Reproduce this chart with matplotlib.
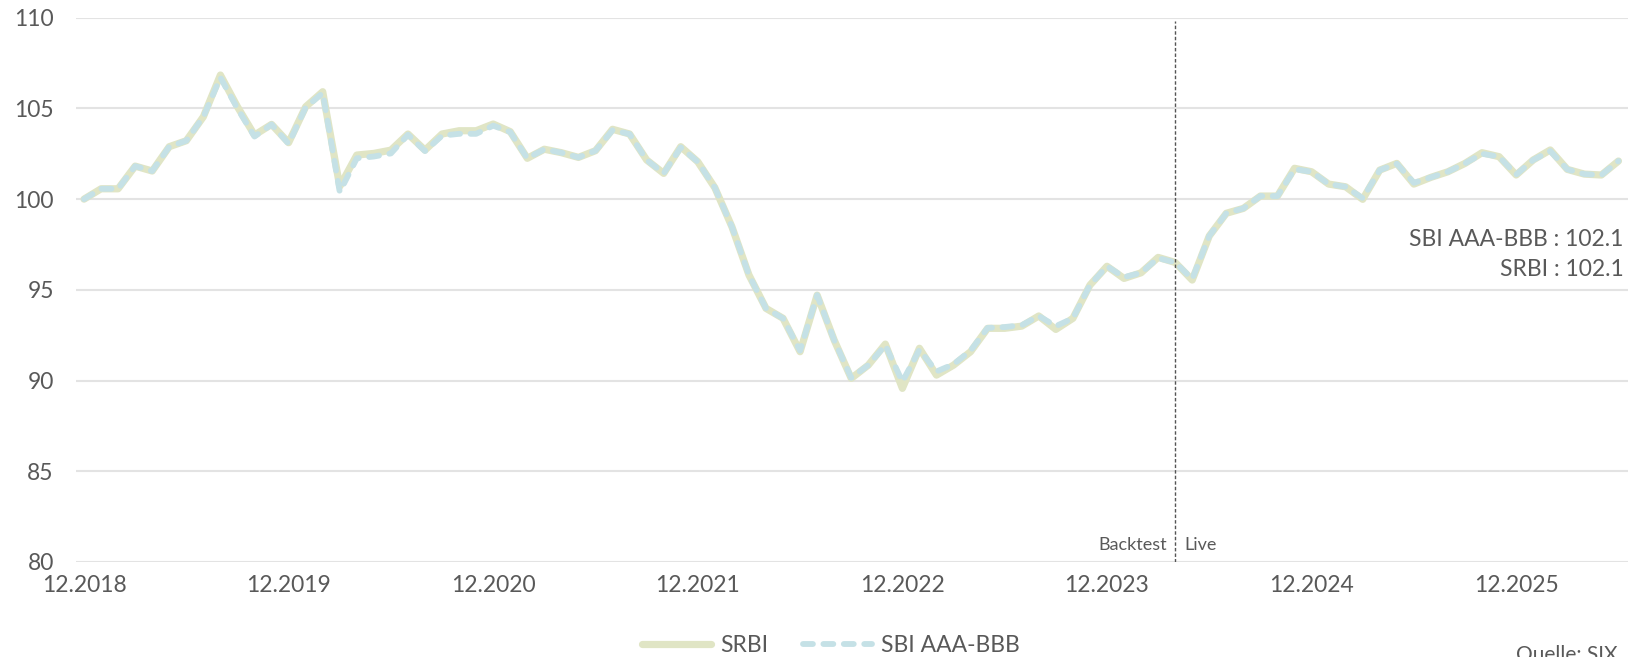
import matplotlib
matplotlib.use("Agg")
import matplotlib.pyplot as plt

plt.rcParams['font.family'] = ['Lato', 'DejaVu Sans']

srbi = [100.0, 100.57, 100.57, 101.82, 101.55, 102.89, 103.22, 104.54, 106.84, 105.09,
        103.53, 104.12, 103.11, 105.09, 105.92, 100.7, 102.43, 102.52, 102.7, 103.59,
        102.7, 103.59, 103.77, 103.77, 104.14, 103.72, 102.25, 102.75, 102.56, 102.30,
        102.67, 103.85, 103.59, 102.16, 101.42, 102.89, 102.06, 100.63, 98.48, 95.82,
        93.98, 93.43, 91.59, 94.71, 92.23, 90.12, 90.85, 92.01, 89.57, 91.78,
        90.30, 90.85, 91.59, 92.88, 92.88, 93.00, 93.56, 92.82, 93.43, 95.26,
        96.3, 95.63, 95.94, 96.79, 96.51, 95.54, 97.97, 99.22, 99.49, 100.17,
        100.17, 101.70, 101.51, 100.83, 100.68, 99.99, 101.6, 101.97, 100.83, 101.2,
        101.51, 101.97, 102.56, 102.34, 101.33, 102.16, 102.71, 101.64, 101.38, 101.33,
        102.1]

sbi = [100.0, 100.57, 100.57, 101.82, 101.55, 102.89, 103.22, 104.54, 106.7, 105.0,
       103.45, 104.12, 103.05, 105.05, 105.85, 100.4, 102.25, 102.35, 102.52, 103.55,
       102.65, 103.5, 103.6, 103.6, 104.05, 103.7, 102.25, 102.75, 102.56, 102.30,
       102.67, 103.8, 103.59, 102.16, 101.42, 102.85, 102.06, 100.63, 98.48, 95.82,
       93.98, 93.43, 91.65, 94.71, 92.23, 90.15, 90.85, 91.95, 89.94, 91.7,
       90.5, 90.9, 91.65, 92.9, 92.95, 93.05, 93.56, 93.0, 93.43, 95.26,
       96.3, 95.7, 95.94, 96.75, 96.51, 95.6, 97.97, 99.22, 99.49, 100.17,
       100.17, 101.65, 101.51, 100.83, 100.68, 100.05, 101.6, 101.95, 100.9, 101.2,
       101.51, 101.97, 102.5, 102.34, 101.35, 102.16, 102.65, 101.64, 101.38, 101.33,
       102.1]

tick_labels = ['12.2018', '12.2019', '12.2020', '12.2021', '12.2022', '12.2023', '12.2024', '12.2025']
tick_positions = [0, 12, 24, 36, 48, 60, 72, 84]
y_ticks = [80, 85, 90, 95, 100, 105, 110]
live_start = 64  # 04.2024

text_col = '#595959'
c_srbi = '#e0e5c5'
c_sbi = '#c5e1e6'

fig = plt.figure(figsize=(16.34, 6.57), dpi=100)
ax = fig.add_axes([76/1634, 1-562/657, (1628-76)/1634, (562-17.7)/657])

x = list(range(len(srbi)))
ax.plot(x, srbi, color=c_srbi, lw=5.2, solid_joinstyle='round', solid_capstyle='round',
        label='SRBI', zorder=3)
ax.plot(x, sbi, color=c_sbi, lw=4.2, linestyle=(0, (1.7, 1.8)), dash_capstyle='round',
        dash_joinstyle='round', label='SBI AAA-BBB', zorder=4)

ax.set_ylim(80, 110)
ax.set_xlim(-0.47, 90.56)
ax.set_yticks(y_ticks)
ax.set_xticks(tick_positions)
ax.set_xticklabels(tick_labels)
ax.tick_params(axis='both', length=0, labelsize=16.5, colors=text_col)
ax.tick_params(axis='y', pad=16)
ax.tick_params(axis='x', pad=9)
ax.grid(axis='y', color='#e3e3e3', lw=1.5, zorder=0)
for s in ax.spines.values():
    s.set_visible(False)

ax.plot([live_start, live_start], [80, 109.8], color='#555555', lw=1.0,
        linestyle=(0, (2.5, 1.5)), zorder=5)
ax.text(live_start - 0.45, 80.95, 'Backtest', ha='right', va='center', fontsize=13, color=text_col)
ax.text(live_start + 0.55, 80.95, 'Live', ha='left', va='center', fontsize=13, color=text_col)

ax.text(90.3, 97.8, f'SBI AAA-BBB : {sbi[-1]:.1f}', ha='right', va='center', fontsize=16.5, color=text_col)
ax.text(90.3, 96.1, f'SRBI : {srbi[-1]:.1f}', ha='right', va='center', fontsize=16.5, color=text_col)

fig.legend(loc='center', bbox_to_anchor=(831/1634, 1-646/657), ncol=2, frameon=False,
           fontsize=16.5, labelcolor=text_col, handlelength=3.0, handletextpad=0.4,
           columnspacing=1.5)

fig.text(1617/1634, 1-655/657, 'Quelle: SIX', ha='right', va='center', fontsize=15, color=text_col)

fig.savefig('out.png', dpi=100)
